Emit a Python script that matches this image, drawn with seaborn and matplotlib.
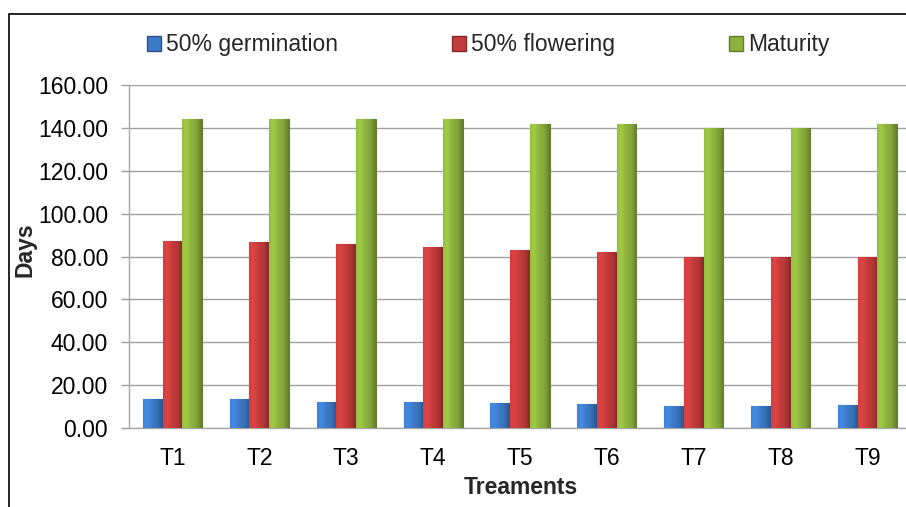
import numpy as np
import pandas as pd
import matplotlib
matplotlib.use("Agg")
import matplotlib.pyplot as plt
import seaborn as sns
from matplotlib.patches import Patch, Rectangle
from matplotlib.colors import to_rgb

# Days to each growth stage per treatment
treatments = ["T1", "T2", "T3", "T4", "T5", "T6", "T7", "T8", "T9"]
germination = [13.7, 13.7, 12.3, 12.3, 11.8, 11.0, 10.1, 10.1, 10.6]
flowering = [87.0, 86.6, 85.8, 84.5, 83.0, 82.0, 80.0, 80.0, 80.0]
maturity = [144.3, 144.3, 144.3, 144.3, 142.0, 142.0, 140.0, 140.0, 142.0]
series_names = ["50% germination", "50% flowering", "Maturity"]
series_colors = ["#3c79c6", "#c23b3b", "#8cb13e"]
y_ticks = [0, 20, 40, 60, 80, 100, 120, 140, 160]

df = pd.DataFrame({
    "Treatment": treatments * 3,
    "Series": [series_names[0]] * 9 + [series_names[1]] * 9 + [series_names[2]] * 9,
    "Days": germination + flowering + maturity,
})

sns.set_theme(style="white")
plt.rcParams["font.family"] = ["Liberation Sans", "DejaVu Sans"]
FS = 16.5

W, H = 906, 507
fig = plt.figure(figsize=(W / 100, H / 100), dpi=100)
ax = fig.add_axes([129 / W, (H - 428) / H, (911 - 129) / W, (428 - 85) / H])

sns.barplot(data=df, x="Treatment", y="Days", hue="Series", order=treatments,
            hue_order=series_names, palette=series_colors, saturation=1,
            width=0.68, gap=0, legend=False, ax=ax, zorder=3,
            edgecolor="none")

# shaded fill inside each bar for a bevelled look
profile = np.array([1.08, 1.15, 1.12, 1.05, 1.0, 0.97, 0.93, 0.85, 0.72])
for patch in ax.patches:
    fc = np.array(patch.get_facecolor()[:3])
    x0, y0 = patch.get_x(), patch.get_y()
    w, h = patch.get_width(), patch.get_height()
    row = np.clip(fc[None, :] * profile[:, None], 0, 1)[None, :, :]
    img = ax.imshow(row, extent=[x0, x0 + w, y0, y0 + h], aspect="auto",
                    interpolation="bicubic", zorder=3.5, origin="lower")
    img.set_clip_path(patch)
    patch.set_edgecolor(tuple(np.clip(fc * 0.7, 0, 1)))
    patch.set_linewidth(0.8)

ax.set_xlim(-0.5, len(treatments) - 0.5)
ax.set_ylim(0, 160)
ax.set_yticks(y_ticks)
ax.set_yticklabels([f"{v:.2f}" for v in y_ticks], fontsize=FS, color="black")
ax.tick_params(axis="y", length=6, width=1, color="#a0a0a0", pad=9, left=True)
ax.tick_params(axis="x", length=0, pad=14, labelsize=FS, labelcolor="black")
ax.yaxis.grid(True, color="#a0a0a0", linewidth=1, zorder=0)
ax.set_axisbelow(True)
for side in ["top", "right"]:
    ax.spines[side].set_visible(False)
for side in ["left", "bottom"]:
    ax.spines[side].set_color("#a6a6a6")
    ax.spines[side].set_linewidth(1)
ax.set_xlabel("")
ax.set_ylabel("")

fig.text(25 / W, 1 - 250 / H, "Days", rotation=90, ha="center", va="center",
         fontsize=FS, fontweight="bold")
fig.text(521 / W, 1 - 488 / H, "Treaments", ha="center", va="center",
         fontsize=FS, fontweight="bold")

handles = [Patch(facecolor=c, edgecolor=tuple(np.array(to_rgb(c)) * 0.7))
           for c in series_colors]
fig.legend(handles, series_names, loc="center left",
           bbox_to_anchor=(147 / W, 1 - 45 / H), ncol=3, frameon=False,
           fontsize=FS, handlelength=0.6, handleheight=0.6,
           handletextpad=0.25, columnspacing=4.95, borderpad=0,
           borderaxespad=0)

# outer chart frame
fig.add_artist(Rectangle((9 / W, -0.1), 1.2, 1 - 14 / H + 0.1,
                         transform=fig.transFigure, fill=False,
                         edgecolor="black", linewidth=1.2))

fig.savefig("out.png", dpi=100)
